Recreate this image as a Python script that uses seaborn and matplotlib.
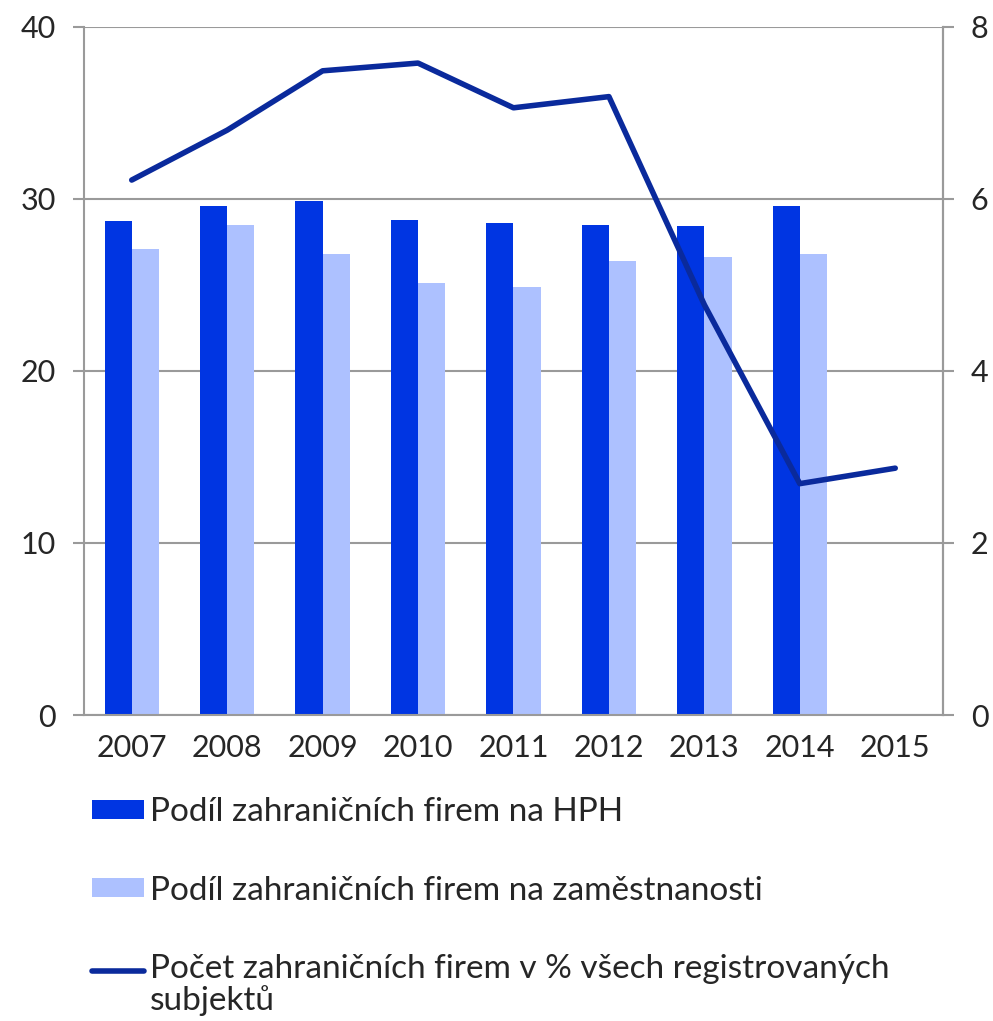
import matplotlib
matplotlib.use('Agg')
import matplotlib.pyplot as plt
import numpy as np
import pandas as pd
import seaborn as sns
from matplotlib.patches import Patch
from matplotlib.lines import Line2D

years = ['2007', '2008', '2009', '2010', '2011', '2012', '2013', '2014', '2015']
hph = [28.7, 29.6, 29.9, 28.8, 28.6, 28.5, 28.4, 29.6, np.nan]
employment = [27.1, 28.5, 26.8, 25.1, 24.9, 26.4, 26.6, 26.8, np.nan]
firms_share = [6.22, 6.80, 7.49, 7.58, 7.06, 7.19, 4.77, 2.69, 2.87]

label_hph = 'Podíl zahraničních firem na HPH'
label_emp = 'Podíl zahraničních firem na zaměstnanosti'
label_firms = 'Počet zahraničních firem v % všech registrovaných\nsubjektů'

C_DARK = '#0035E2'
C_LIGHT = '#ADC1FF'
C_LINE = '#0A2A9C'
C_GRID = '#9A9A9A'

sns.set_style('white')
plt.rcParams['font.family'] = ['Lato', 'DejaVu Sans']
plt.rcParams['font.size'] = 21

df = pd.DataFrame({'year': years * 2,
                   'value': hph + employment,
                   'series': [label_hph] * len(years) + [label_emp] * len(years)})

fig = plt.figure(figsize=(9.93, 10.21), dpi=100)
ax = fig.add_axes([0.0846, 0.2997, 0.8650, 0.6739])

sns.barplot(data=df, x='year', y='value', hue='series', order=years,
            hue_order=[label_hph, label_emp], palette=[C_DARK, C_LIGHT],
            width=0.57, ax=ax, legend=False, saturation=1)
for p in ax.patches:
    p.set_edgecolor('none')

ax.set_ylim(0, 40)
ax.set_yticks([0, 10, 20, 30, 40])
ax.set_xlim(-0.5, len(years) - 0.5)
ax.set_xlabel('')
ax.set_ylabel('')
ax.yaxis.grid(True, color=C_GRID, linewidth=1.5)
ax.set_axisbelow(True)

# x ticks between categories, labels centred
ax.set_xticks(np.arange(len(years)), years, minor=True)
ax.set_xticks(np.arange(len(years) + 1) - 0.5, [''] * (len(years) + 1))
ax.tick_params(axis='x', which='minor', length=0, pad=14, labelsize=22)
ax.tick_params(axis='x', which='major', length=8, width=1.5, color=C_GRID)
ax.tick_params(axis='y', length=8, width=1.5, color=C_GRID, pad=12, labelsize=22)

ax.spines['top'].set_visible(False)
for s in ['left', 'right', 'bottom']:
    ax.spines[s].set_color(C_GRID)
    ax.spines[s].set_linewidth(1.5)

ax2 = ax.twinx()
line_df = pd.DataFrame({'pos': np.arange(len(years)), 'share': firms_share})
sns.lineplot(data=line_df, x='pos', y='share', color=C_LINE, linewidth=4,
             ax=ax2, solid_capstyle='round')
ax2.set_ylim(0, 8)
ax2.set_yticks([0, 2, 4, 6, 8])
ax2.set_xlim(-0.5, len(years) - 0.5)
ax2.set_ylabel('')
ax2.set_xlabel('')
ax2.tick_params(axis='y', length=8, width=1.5, color=C_GRID, pad=12, labelsize=22)
for s in ['top', 'left', 'bottom']:
    ax2.spines[s].set_visible(False)
ax2.spines['right'].set_color(C_GRID)
ax2.spines['right'].set_linewidth(1.5)

handles = [Patch(facecolor=C_DARK, edgecolor='none'),
           Patch(facecolor=C_LIGHT, edgecolor='none'),
           Line2D([0], [0], color=C_LINE, linewidth=4, solid_capstyle='round')]
leg = fig.legend(handles, [label_hph, label_emp, label_firms], loc='upper left',
                 bbox_to_anchor=(0.0926, 0.219), frameon=False, fontsize=24,
                 handlelength=1.55, handleheight=0.5, handletextpad=0.2,
                 labelspacing=1.45, borderpad=0, borderaxespad=0)
for t in leg.get_texts():
    t.set_linespacing(1.05)
# line handle sits beside the first line of the wrapped label
lh = leg.legend_handles[2]
lh.set_ydata(np.asarray(lh.get_ydata()) + 11.5)

fig.savefig('out.png', dpi=100)
